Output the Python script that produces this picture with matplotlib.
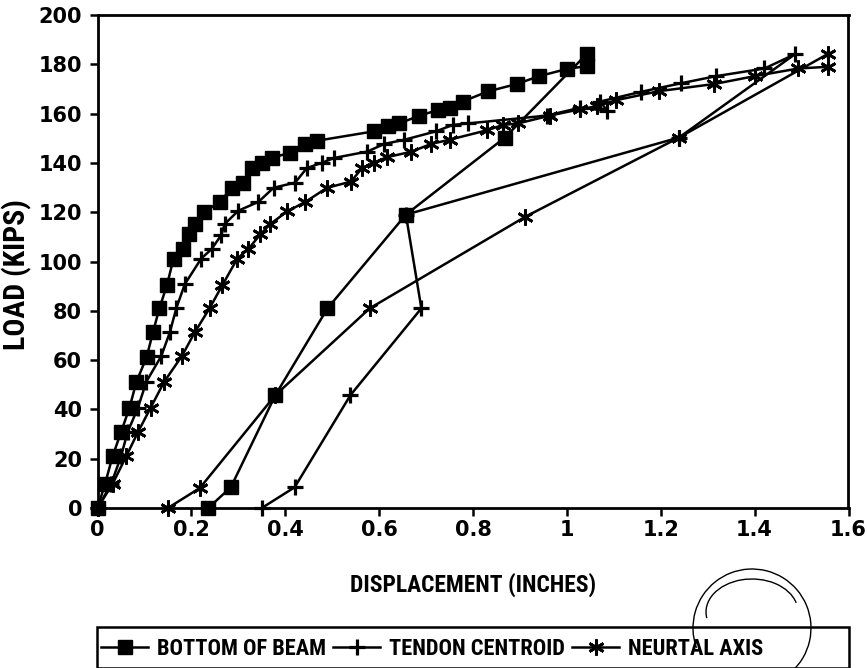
import matplotlib
matplotlib.use("Agg")
import matplotlib.pyplot as plt
from matplotlib import font_manager as fm
from matplotlib.patches import Rectangle, Arc

# ---- data (displacement in inches, load in kips) ----
bottom_x = [0.0, 0.016, 0.032, 0.05, 0.068, 0.083, 0.105, 0.118, 0.132, 0.148, 0.162, 0.182,
            0.196, 0.207, 0.226, 0.261, 0.286, 0.311, 0.329, 0.35, 0.371, 0.411, 0.443, 0.468,
            0.589, 0.618, 0.643, 0.686, 0.725, 0.75, 0.778, 0.832, 0.893, 0.941, 1.0, 1.043,
            1.043, 0.868, 0.657, 0.49, 0.379, 0.284, 0.236]
bottom_y = [0, 9.7, 20.9, 30.7, 40.6, 51.2, 61.4, 71.2, 81.1, 90.4, 101.2, 104.9,
            111.0, 115.2, 120.0, 124.2, 129.9, 131.8, 137.9, 140.1, 142.0, 144.2, 147.7, 149.0,
            152.8, 154.8, 156.0, 159.2, 161.4, 162.4, 164.9, 169.0, 172.0, 175.2, 178.1, 179.3,
            184.3, 150.3, 119.0, 81.0, 45.8, 8.4, 0]

tendon_x = [0.0, 0.029, 0.05, 0.064, 0.086, 0.104, 0.136, 0.154, 0.168, 0.186, 0.221, 0.243,
            0.264, 0.271, 0.3, 0.343, 0.375, 0.421, 0.446, 0.479, 0.504, 0.575, 0.611, 0.654,
            0.721, 0.757, 0.789, 0.957, 1.029, 1.086, 1.071, 1.157, 1.243, 1.318, 1.421, 1.486,
            1.239, 0.657, 0.69, 0.539, 0.42, 0.35]
tendon_y = [0, 9.7, 20.9, 30.7, 40.6, 51.2, 61.7, 71.2, 81.1, 90.8, 101.2, 105.0,
            110.8, 115.2, 120.6, 124.2, 129.9, 132.0, 137.9, 140.1, 142.0, 144.6, 147.7, 149.4,
            152.8, 155.4, 156.0, 159.2, 162.4, 161.1, 164.9, 168.8, 172.3, 175.2, 178.3, 184.1,
            150.3, 119.0, 81.0, 45.8, 8.4, 0]

neutral_x = [0.0, 0.032, 0.061, 0.086, 0.113, 0.142, 0.18, 0.207, 0.239, 0.266, 0.298, 0.321,
             0.347, 0.368, 0.404, 0.443, 0.489, 0.54, 0.564, 0.589, 0.616, 0.668, 0.711, 0.75,
             0.829, 0.864, 0.896, 0.964, 1.029, 1.064, 1.104, 1.196, 1.314, 1.4, 1.493, 1.557,
             1.557, 1.239, 0.91, 0.58, 0.379, 0.218, 0.15]
neutral_y = [0, 9.7, 20.9, 30.7, 40.6, 51.2, 61.7, 71.2, 81.1, 90.4, 101.2, 105.0,
             111.0, 115.2, 120.3, 124.2, 129.9, 132.4, 138.0, 140.1, 142.3, 144.5, 147.7, 149.4,
             153.2, 155.4, 156.0, 159.2, 161.8, 163.0, 165.4, 169.1, 172.0, 175.2, 178.3, 179.0,
             184.3, 150.3, 118.0, 81.0, 45.8, 8.1, 0]

series_labels = ["BOTTOM OF BEAM", "TENDON CENTROID", "NEURTAL AXIS"]
x_label = "DISPLACEMENT (INCHES)"
y_label = "LOAD (KIPS)"
x_ticks = [0, 0.2, 0.4, 0.6, 0.8, 1.0, 1.2, 1.4, 1.6]
x_tick_labels = ["0", "0.2", "0.4", "0.6", "0.8", "1", "1.2", "1.4", "1.6"]
y_ticks = list(range(0, 201, 20))


def find_condensed_bold():
    prefs = ["Liberation Sans Narrow", "Roboto Condensed", "DejaVu Sans",
             "Open Sans Condensed", "Noto Sans"]
    found = {}
    for f in fm.fontManager.ttflist:
        w = f.weight
        try:
            bold = int(w) >= 600
        except (TypeError, ValueError):
            bold = str(w).lower() in ("bold", "heavy", "black", "demibold", "semibold")
        fn = f.fname.lower()
        cond = ("condensed" in str(f.stretch).lower() or "narrow" in f.name.lower()
                or "condensed" in f.name.lower() or "condensed" in fn or "narrow" in fn)
        if bold and cond and f.style == "normal" and "italic" not in fn and "oblique" not in fn:
            found.setdefault(f.name, f.fname)
    for p in prefs:
        if p in found:
            return p, found[p]
    if found:
        k = sorted(found)[0]
        return k, found[k]
    return None, None


cname, cpath = find_condensed_bold()


def cprop(size):
    if cpath:
        return fm.FontProperties(fname=cpath, size=size)
    return fm.FontProperties(family="DejaVu Sans", weight="bold", size=size)


W, H = 867, 668
fig = plt.figure(figsize=(W / 100, H / 100), dpi=100)
ax_left, ax_right, ax_top, ax_bot = 97.5, 848.5, 15, 508
ax = fig.add_axes([ax_left / W, (H - ax_bot) / H, (ax_right - ax_left) / W, (ax_bot - ax_top) / H])

lw = 1.8
ax.plot(bottom_x, bottom_y, color="black", lw=lw, marker="s", ms=9.5, mec="black",
        mfc="black", label=series_labels[0], clip_on=False, zorder=3)
ax.plot(tendon_x, tendon_y, color="black", lw=lw, marker="+", ms=11, mew=2.3,
        label=series_labels[1], clip_on=False, zorder=3)
ax.plot(neutral_x, neutral_y, color="black", lw=lw, marker=(6, 2, 0), ms=11.5, mew=2.0,
        label=series_labels[2], clip_on=False, zorder=3)

ax.set_xlim(0, 1.6)
ax.set_ylim(0, 200)
ax.set_xticks(x_ticks)
ax.set_xticklabels(x_tick_labels)
ax.set_yticks(y_ticks)
for lab in ax.get_xticklabels() + ax.get_yticklabels():
    lab.set_fontsize(15)
    lab.set_fontweight("bold")
    lab.set_family("DejaVu Sans")
ax.tick_params(direction="out", length=6, width=1.8, pad=3)
ax.tick_params(axis="y", pad=5)
for s in ax.spines.values():
    s.set_linewidth(2.0)

fig.canvas.draw()
renderer = fig.canvas.get_renderer()


def fitted(text_obj, base, target, horizontal=True):
    ext = text_obj.get_window_extent(renderer)
    span = ext.width if horizontal else ext.height
    return max(9, min(base * target / span, 22))


# axis titles, fitted to the reference extents
xt = fig.text(473 / W, 1 - 585 / H, x_label, ha="center", va="center",
              fontproperties=cprop(15))
xt.set_fontproperties(cprop(fitted(xt, 15, 247)))
yt = fig.text(17 / W, 1 - 275 / H, y_label, ha="center", va="center", rotation=90,
              fontproperties=cprop(15))
yt.set_fontproperties(cprop(fitted(yt, 15, 152, horizontal=False)))

# legend, text fitted so that the first label spans the reference width
probe = fig.text(0, 0, series_labels[0], fontproperties=cprop(15))
lsize = fitted(probe, 15, 170)
probe.remove()
em_px = lsize * 100 / 72.0
leg = fig.legend(loc="center left", bbox_to_anchor=(99 / W, 1 - 649 / H), ncol=3,
                 frameon=False, handlelength=47 / em_px, handletextpad=9 / em_px,
                 columnspacing=7 / em_px, borderpad=0.1, borderaxespad=0.0,
                 prop=cprop(lsize))
fig.patches.append(Rectangle((97 / W, 0.0), (849 - 97) / W, (H - 627) / H,
                             transform=fig.transFigure, fill=False, edgecolor="black",
                             linewidth=1.8, clip_on=False))

# hand-drawn loops on the scanned page
fig.patches.append(Arc((752 / W, 1 - 628 / H), 118 / W, 118 / H, theta1=-85, theta2=205,
                       transform=fig.transFigure, color="black", lw=1.0))
fig.patches.append(Arc((752 / W, 1 - 612 / H), 92 / W, 66 / H, theta1=15, theta2=190,
                       transform=fig.transFigure, color="black", lw=1.0))

fig.savefig("out.png", dpi=100, facecolor="white")
